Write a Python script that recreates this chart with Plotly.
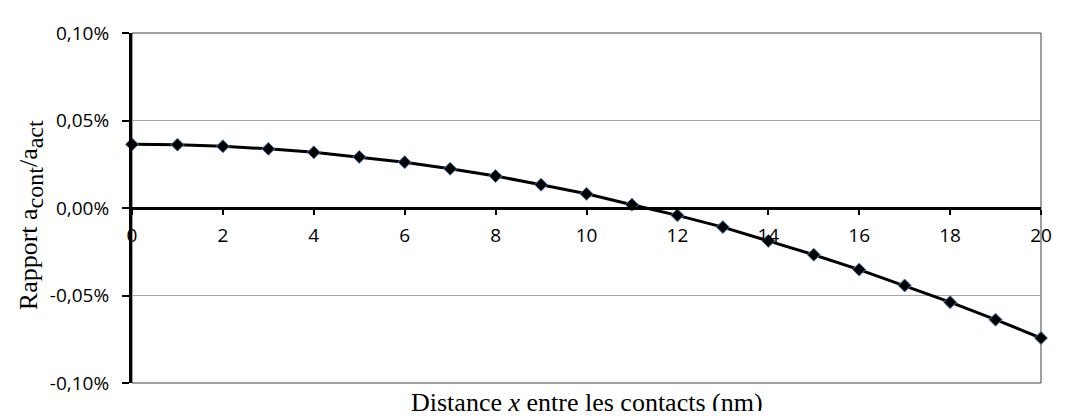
import plotly.graph_objects as go

distance_nm = list(range(0, 21))
ratio_pct = [0.0364, 0.0362, 0.0353, 0.0338, 0.0318, 0.0292, 0.0262, 0.0224, 0.0183,
             0.0133, 0.0081, 0.0019, -0.0042, -0.0109, -0.0188, -0.0267, -0.0352,
             -0.0443, -0.0538, -0.0638, -0.0743]

x_tickvals = [0, 2, 4, 6, 8, 10, 12, 14, 16, 18, 20]
y_tickvals = [-0.10, -0.05, 0.0, 0.05, 0.10]
y_ticktext = ["-0,10%", "-0,05%", "0,00%", "0,05%", "0,10%"]

tick_font = dict(family="Open Sans", size=19, color="#000000")

fig = go.Figure()
fig.add_trace(go.Scatter(
    x=distance_nm, y=ratio_pct, mode="lines+markers",
    line=dict(color="#000000", width=3),
    marker=dict(symbol="diamond", size=10, color="#000000",
                line=dict(color="#4f81bd", width=1)),
    cliponaxis=False, showlegend=False,
))

# The page places the figure at an 8 px body offset; sizes compensate for it.
fig.update_layout(
    width=1056, height=403,
    margin=dict(l=124, r=12, t=14, b=28),
    paper_bgcolor="#ffffff", plot_bgcolor="#ffffff",
    xaxis=dict(
        range=[0, 20], anchor="free", position=0.5,
        tickvals=x_tickvals, ticks="outside", ticklen=5, tickwidth=2,
        tickcolor="#000000", showline=True, linewidth=3, linecolor="#000000",
        showgrid=False, zeroline=False, tickfont=tick_font,
        ticklabelstandoff=4,
    ),
    yaxis=dict(
        range=[-0.10, 0.10], tickvals=y_tickvals, ticktext=y_ticktext,
        ticks="outside", ticklen=7, tickwidth=2, tickcolor="#000000",
        showline=True, linewidth=3, linecolor="#000000",
        showgrid=True, gridcolor="#a6a6a6", gridwidth=1,
        zeroline=False, tickfont=tick_font, ticklabelstandoff=9,
    ),
    shapes=[
        dict(type="rect", xref="paper", yref="paper", x0=0, x1=1, y0=0, y1=1,
             line=dict(color="#404040", width=1), layer="below"),
    ],
    annotations=[
        dict(text="Distance <i>x</i> entre les contacts (nm)", xref="paper", yref="paper",
             x=0.5, y=-0.055, xanchor="center", yanchor="middle", showarrow=False,
             font=dict(family="Liberation Serif", size=26, color="#000000")),
        dict(text="Rapport a<sub><span style='font-size:24px'>cont</span></sub>/a"
                  "<sub><span style='font-size:24px'>act</span></sub>",
             xref="paper", yref="paper",
             x=-0.112, y=0.48, xanchor="center", yanchor="middle", showarrow=False,
             textangle=-90,
             font=dict(family="Liberation Serif", size=26, color="#000000")),
    ],
)

fig.write_html("out.html")
